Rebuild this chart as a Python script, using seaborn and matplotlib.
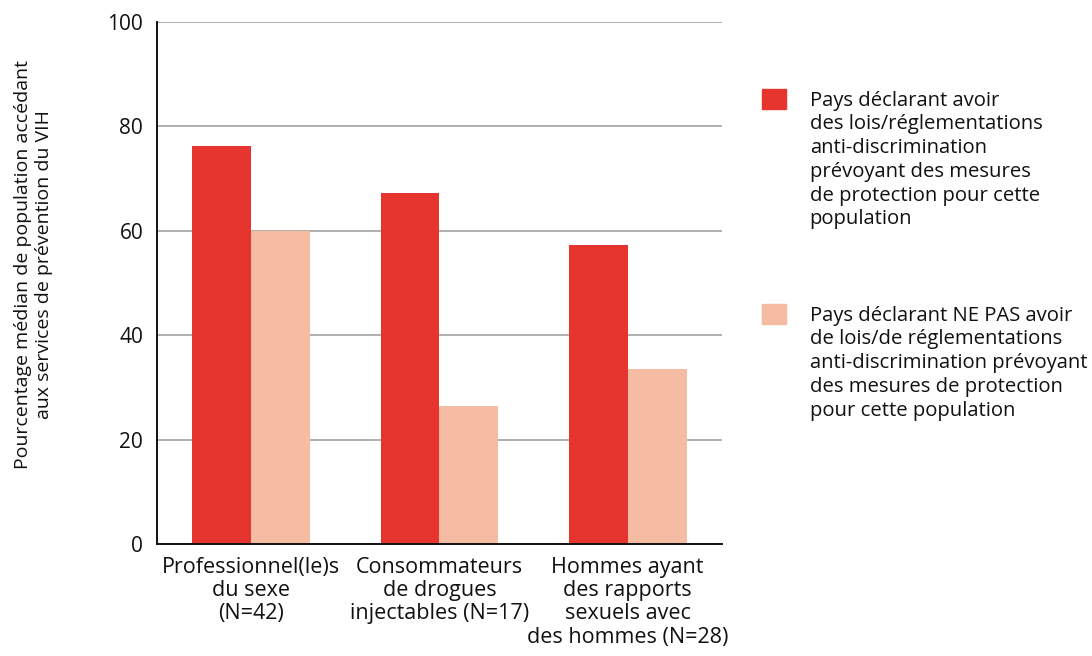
import matplotlib
matplotlib.use("Agg")
import matplotlib.pyplot as plt
from matplotlib.patches import Rectangle
from matplotlib.ticker import FixedLocator
import pandas as pd
import seaborn as sns

categories = [
    "Professionnel(le)s\ndu sexe\n(N=42)",
    "Consommateurs\nde drogues\ninjectables (N=17)",
    "Hommes ayant\ndes rapports\nsexuels avec\ndes hommes (N=28)",
]
series = [
    "Pays déclarant avoir\ndes lois/réglementations\nanti-discrimination\nprévoyant des mesures\nde protection pour cette\npopulation",
    "Pays déclarant NE PAS avoir\nde lois/de réglementations\nanti-discrimination prévoyant\ndes mesures de protection\npour cette population",
]
with_laws = [76.2, 67.2, 57.3]
without_laws = [60.0, 26.4, 33.5]
colors = ["#E5352E", "#F6BBA3"]
y_ticks = [0, 20, 40, 60, 80, 100]
y_label = "Pourcentage médian de population accédant\naux services de prévention du VIH"

df = pd.DataFrame({
    "group": categories * 2,
    "series": [series[0]] * 3 + [series[1]] * 3,
    "value": with_laws + without_laws,
})

sns.set_theme(style="white")
plt.rcParams["font.family"] = ["Open Sans", "DejaVu Sans"]

fig = plt.figure(figsize=(10.92, 6.56), dpi=100)
ax = fig.add_axes([0.1438, 0.1707, 0.5172, 0.7958])

sns.barplot(data=df, x="group", y="value", hue="series", order=categories,
            hue_order=series, palette=colors, width=0.625, saturation=1,
            ax=ax, legend=False, linewidth=0)

ax.set_ylim(0, 100)
ax.set_xlim(-0.5, 2.5)
ax.set_yticks(y_ticks)
ax.set_yticklabels([str(t) for t in y_ticks], fontsize=15, color="#111111")
ax.tick_params(axis="y", length=0, pad=10)
ax.yaxis.grid(True, color="#9a9a9a", linewidth=1.1)
ax.set_axisbelow(True)

# ticks at category boundaries, labels in the middle
ax.xaxis.set_major_locator(FixedLocator([-0.5, 0.5, 1.5, 2.5]))
ax.set_xticklabels([])
ax.xaxis.set_minor_locator(FixedLocator([0, 1, 2]))
ax.set_xticklabels(categories, minor=True, fontsize=15.5, color="#111111",
                   linespacing=1.15)
ax.tick_params(axis="x", which="major", length=5, width=1.2, color="#111111",
               direction="out")
ax.tick_params(axis="x", which="minor", length=0, pad=9)
ax.set_xlabel("")
ax.set_ylabel(y_label, fontsize=14, color="#111111", linespacing=1.2)
ax.yaxis.set_label_coords(-0.185, 0.535)

for side in ["top", "right"]:
    ax.spines[side].set_visible(False)
for side in ["left", "bottom"]:
    ax.spines[side].set_color("#111111")
    ax.spines[side].set_linewidth(1.4)

# legend drawn by hand so the swatch lines up with the first text line
legend_tops = [0.864, 0.536]
for col, lab, top in zip(colors, series, legend_tops):
    fig.patches.append(Rectangle((0.698, top - 0.0305), 0.022, 0.0305,
                                 transform=fig.transFigure, color=col))
    fig.text(0.7415, top - 0.002, lab, fontsize=14.6, va="top", ha="left",
             color="#111111", linespacing=1.25)

fig.savefig("out.png", dpi=100)
